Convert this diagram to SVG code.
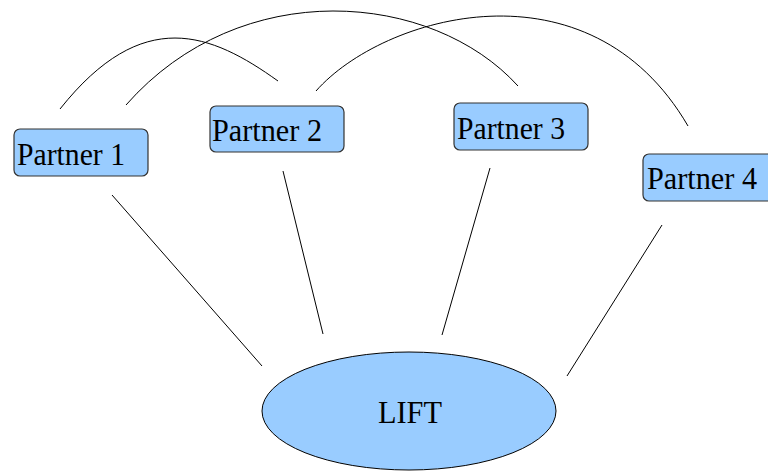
<svg xmlns="http://www.w3.org/2000/svg" width="768" height="472" viewBox="0 0 768 472">
<style>
.box{fill:#99ccff;stroke:#333;stroke-width:1.2}
.lbl{font-family:'Liberation Serif','Times New Roman',Times,'DejaVu Serif','Nimbus Roman',Tinos,serif;font-size:32px;fill:#000}
.con{fill:none;stroke:#000;stroke-width:1}
</style>
<rect width="768" height="472" fill="#fff"/>
<g id="connectors">
<line class="con" x1="112" y1="195" x2="262" y2="366"/>
<line class="con" x1="283" y1="171" x2="323" y2="334"/>
<line class="con" x1="490" y1="168" x2="442" y2="335"/>
<line class="con" x1="662" y1="225" x2="567" y2="376"/>
<path class="con" d="M60,109 C142.8,4.9 211.2,33.2 278,81"/>
<path class="con" d="M126,105 C241,-25.7 432.3,-8.6 518,86"/>
<path class="con" d="M316,91 C383,15 589,-44 688,126"/>
</g>
<g id="partner1">
<rect class="box" x="14" y="129" width="134" height="47" rx="6"/>
<text class="lbl" x="17" y="165" textLength="108" lengthAdjust="spacingAndGlyphs">Partner 1</text>
</g>
<g id="partner2">
<rect class="box" x="210" y="106" width="134" height="46" rx="6"/>
<text class="lbl" x="212" y="141" textLength="110" lengthAdjust="spacingAndGlyphs">Partner 2</text>
</g>
<g id="partner3">
<rect class="box" x="454" y="103" width="134" height="47" rx="6"/>
<text class="lbl" x="457" y="139" textLength="108" lengthAdjust="spacingAndGlyphs">Partner 3</text>
</g>
<g id="partner4">
<rect class="box" x="643" y="154" width="134" height="47" rx="6"/>
<text class="lbl" x="647" y="189" textLength="110" lengthAdjust="spacingAndGlyphs">Partner 4</text>
</g>
<g id="lift">
<ellipse cx="409" cy="411" rx="147" ry="59" fill="#99ccff" stroke="#000" stroke-width="1"/>
<text class="lbl" x="378" y="423" textLength="64" lengthAdjust="spacingAndGlyphs">LIFT</text>
</g>
</svg>
